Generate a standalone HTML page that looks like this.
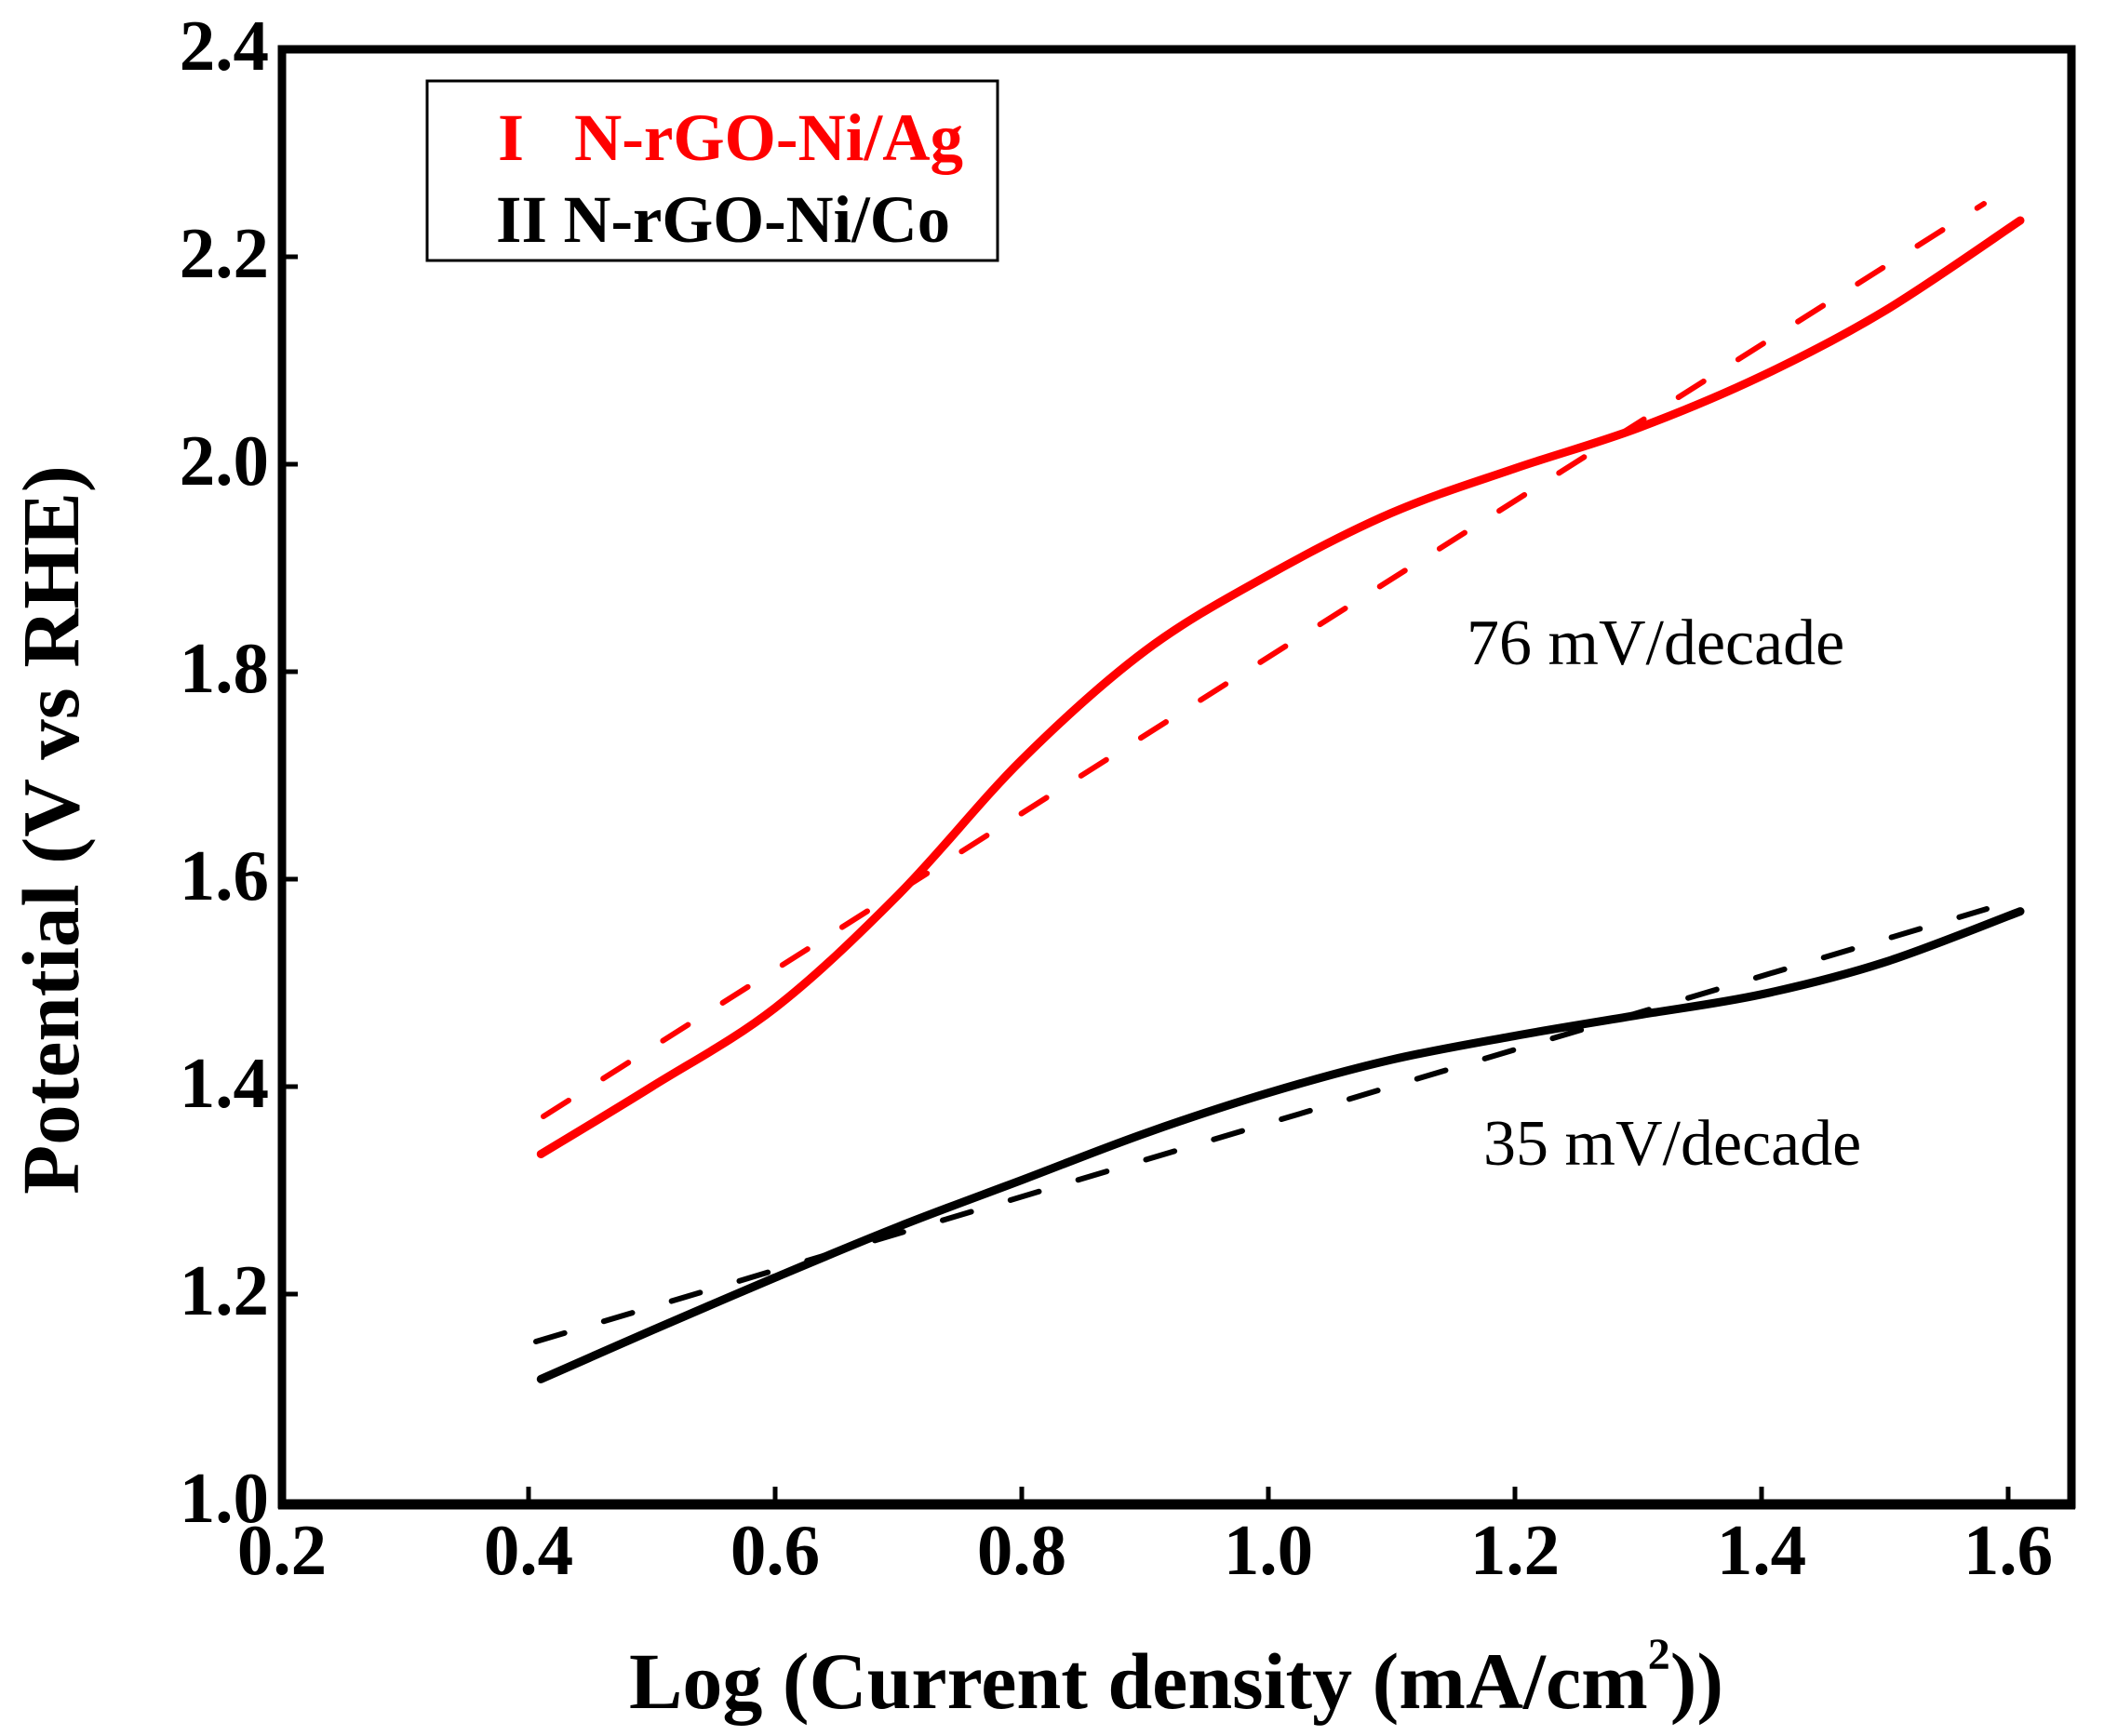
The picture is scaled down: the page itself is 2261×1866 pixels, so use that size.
<!DOCTYPE html>
<html><head><meta charset="utf-8"><style>
html,body{margin:0;padding:0;background:#fff;}
svg{display:block;}
text{font-family:"Liberation Serif",serif;}
</style></head><body>
<svg width="2261" height="1866" viewBox="0 0 2261 1866" xmlns="http://www.w3.org/2000/svg">
<rect width="2261" height="1866" fill="#fff"/>
<rect x="303" y="53" width="1923" height="1564" fill="none" stroke="#000" stroke-width="9"/>
<line x1="299" y1="1617" x2="2230" y2="1617" stroke="#000" stroke-width="11"/>
<g stroke="#000" stroke-width="5">
<line x1="568" y1="1612" x2="568" y2="1598"/>
<line x1="833" y1="1612" x2="833" y2="1598"/>
<line x1="1098" y1="1612" x2="1098" y2="1598"/>
<line x1="1363" y1="1612" x2="1363" y2="1598"/>
<line x1="1628" y1="1612" x2="1628" y2="1598"/>
<line x1="1893" y1="1612" x2="1893" y2="1598"/>
<line x1="2158" y1="1612" x2="2158" y2="1598"/>
<line x1="307" y1="276" x2="320" y2="276"/>
<line x1="307" y1="499" x2="320" y2="499"/>
<line x1="307" y1="722" x2="320" y2="722"/>
<line x1="307" y1="945" x2="320" y2="945"/>
<line x1="307" y1="1168" x2="320" y2="1168"/>
<line x1="307" y1="1391" x2="320" y2="1391"/>
</g>
<g font-size="77" font-weight="bold" text-anchor="middle">
<text x="303" y="1692">0.2</text>
<text x="568" y="1692">0.4</text>
<text x="833" y="1692">0.6</text>
<text x="1098" y="1692">0.8</text>
<text x="1363" y="1692">1.0</text>
<text x="1628" y="1692">1.2</text>
<text x="1893" y="1692">1.4</text>
<text x="2158" y="1692">1.6</text>
</g>
<g font-size="77" font-weight="bold" text-anchor="end">
<text x="289" y="75">2.4</text>
<text x="289" y="298">2.2</text>
<text x="289" y="521">2.0</text>
<text x="289" y="744">1.8</text>
<text x="289" y="967">1.6</text>
<text x="289" y="1190">1.4</text>
<text x="289" y="1413">1.2</text>
<text x="289" y="1636">1.0</text>
</g>
<text x="1264" y="1836" font-size="86" font-weight="bold" text-anchor="middle">Log (Current density (mA/cm<tspan dy="-42" font-size="48">2</tspan><tspan dy="42">))</tspan></text>
<text transform="translate(84,892) rotate(-90)" font-size="87" font-weight="bold" text-anchor="middle">Potential (V vs RHE)</text>
<rect x="459" y="87" width="613" height="193" fill="#fff" stroke="#000" stroke-width="3"/>
<text x="535" y="172" font-size="72" font-weight="bold" fill="#ff0000">I</text>
<text x="617" y="172" font-size="72" font-weight="bold" fill="#ff0000" textLength="418" lengthAdjust="spacingAndGlyphs">N-rGO-Ni/Ag</text>
<text x="533" y="260" font-size="72" font-weight="bold" fill="#000" textLength="488" lengthAdjust="spacingAndGlyphs">II N-rGO-Ni/Co</text>
<text x="1576" y="714" font-size="70">76 mV/decade</text>
<text x="1594" y="1252" font-size="70">35 mV/decade</text>
<line x1="584" y1="1200" x2="2132" y2="219" stroke="#ff0000" stroke-width="6" stroke-dasharray="32 44" stroke-linecap="round"/>
<line x1="576" y1="1442" x2="2135" y2="977" stroke="#000" stroke-width="6" stroke-dasharray="32 44" stroke-linecap="round"/>
<path d="M581.3,1240.5 C601.2,1228.4 658.5,1194.2 700.5,1168 C742.5,1141.8 788.8,1117.7 833,1083.3 C877.2,1048.9 921.3,1006.1 965.5,961.7 C1009.7,917.3 1053.8,860.4 1098,816.7 C1142.2,773 1186.3,732.7 1230.5,699.6 C1274.7,666.5 1318.8,642.9 1363,618.2 C1407.2,593.5 1451.3,570.4 1495.5,551.3 C1539.7,532.2 1583.8,518.7 1628,503.5 C1672.2,488.3 1716.3,476.6 1760.5,460 C1804.7,443.4 1848.8,425.2 1893,404.2 C1937.2,383.2 1979.2,361.9 2025.5,334 C2071.8,306.1 2146.7,253.2 2171,237" fill="none" stroke="#ff0000" stroke-width="9" stroke-linecap="round"/>
<path d="M581.3,1482.4 C601.2,1473.7 658.5,1448.2 700.5,1430 C742.5,1411.8 788.8,1391.8 833,1373.2 C877.2,1354.6 921.3,1336 965.5,1318.5 C1009.7,1301 1053.8,1285.1 1098,1268.4 C1142.2,1251.7 1186.3,1233.8 1230.5,1218.2 C1274.7,1202.6 1318.8,1187.9 1363,1174.7 C1407.2,1161.5 1451.3,1149.2 1495.5,1139 C1539.7,1128.8 1583.8,1121.4 1628,1113.4 C1672.2,1105.4 1716.3,1098.5 1760.5,1091.1 C1804.7,1083.7 1848.8,1078.3 1893,1068.8 C1937.2,1059.3 1979.2,1049.1 2025.5,1034.2 C2071.8,1019.3 2146.7,988.7 2171,979.6" fill="none" stroke="#000" stroke-width="9" stroke-linecap="round"/>
</svg>
</body></html>
